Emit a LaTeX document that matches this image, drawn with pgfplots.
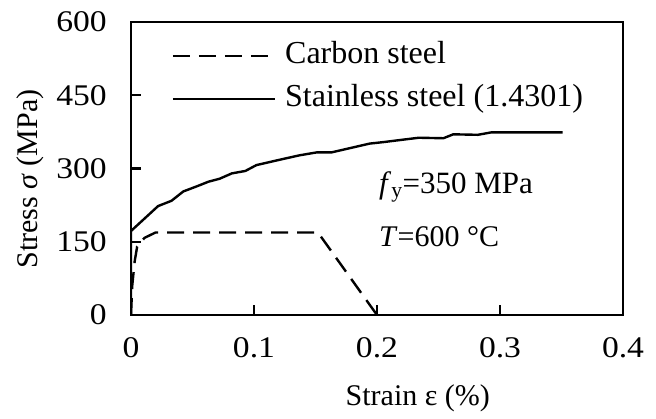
\documentclass[border=0pt]{standalone}
\usepackage{fontspec}
\setmainfont{Liberation Serif}
\newfontfamily\tickfont[FakeStretch=1.12]{Liberation Serif}
\usepackage{pgfplots}
\pgfplotsset{compat=1.18}
\begin{document}
\fontsize{30pt}{36pt}\selectfont
\begin{tikzpicture}
\useasboundingbox (-131pt,-103pt) rectangle (525pt,315pt);
\begin{axis}[
  at={(0,0)}, anchor=south west,
  scale only axis, width=492pt, height=293pt,
  xmin=0, xmax=0.4, ymin=0, ymax=600,
  xtick={0,0.1,0.2,0.3,0.4}, ytick={0,150,300,450,600},
  xticklabels={0,0.1,0.2,0.3,0.4},
  tick pos=left, tick align=inside, major tick length=10pt,
  tick style={line width=2.4pt, black},
  axis line style={line width=2.4pt},
  /pgf/number format/assume math mode=true,
  ticklabel style={font=\tickfont\fontsize{30pt}{36pt}\selectfont},
  xticklabel shift=12pt, yticklabel shift=14pt,
  every axis y label/.style={at={(axis description cs:-0.2053,0.464)}, rotate=90, anchor=center},
  every axis x label/.style={at={(axis description cs:0.583,-0.283)}, anchor=center},
  ylabel={Stress \textit{σ} (MPa)},
  xlabel={Strain ε (\%)},
  label style={font=\fontsize{30pt}{36pt}\selectfont},
  legend style={draw=none, fill=none, at={(axis cs:0.033,560)}, anchor=north west,
    font=\fontsize{32pt}{38pt}\selectfont, row sep=14pt, inner sep=0pt,
    nodes={text height=22pt, text depth=7pt, inner sep=0pt},
    /tikz/every even column/.append style={column sep=0pt}},
  legend cell align=left,
  legend image code/.code={\draw[#1] (0pt,0pt) -- (102pt,0pt);},
]
\addplot[black, line width=2.4pt, dash pattern=on 17pt off 9pt] coordinates {
(0,0) (0.001,60) (0.003,110) (0.005,140) (0.011,158) (0.02,169) (0.152,169) (0.2,0)
};
\addlegendentry{\hspace{9pt}Carbon steel}
\addplot[black, line width=2.4pt] coordinates {
(0,0) (0,172) (0.022,223) (0.033,234) (0.0425,253) (0.053,263) (0.063,273) (0.072,279)
(0.082,290) (0.093,295) (0.102,307) (0.121,318) (0.137,327) (0.151,333) (0.163,333)
(0.194,351) (0.205,354) (0.221,359) (0.234,363) (0.254,362) (0.262,370) (0.282,369)
(0.293,374) (0.351,374)
};
\addlegendentry{\hspace{9pt}Stainless steel (1.4301)}
\node[anchor=west, inner sep=0pt, font=\fontsize{31pt}{36pt}\selectfont] at (axis cs:0.2016,262) {\textit{f}\textsubscript{y}=350 MPa};
\node[anchor=west, inner sep=0pt, font=\fontsize{30pt}{36pt}\selectfont] at (axis cs:0.2016,160) {\textit{T}=600 °C};
\end{axis}
\end{tikzpicture}
\end{document}
